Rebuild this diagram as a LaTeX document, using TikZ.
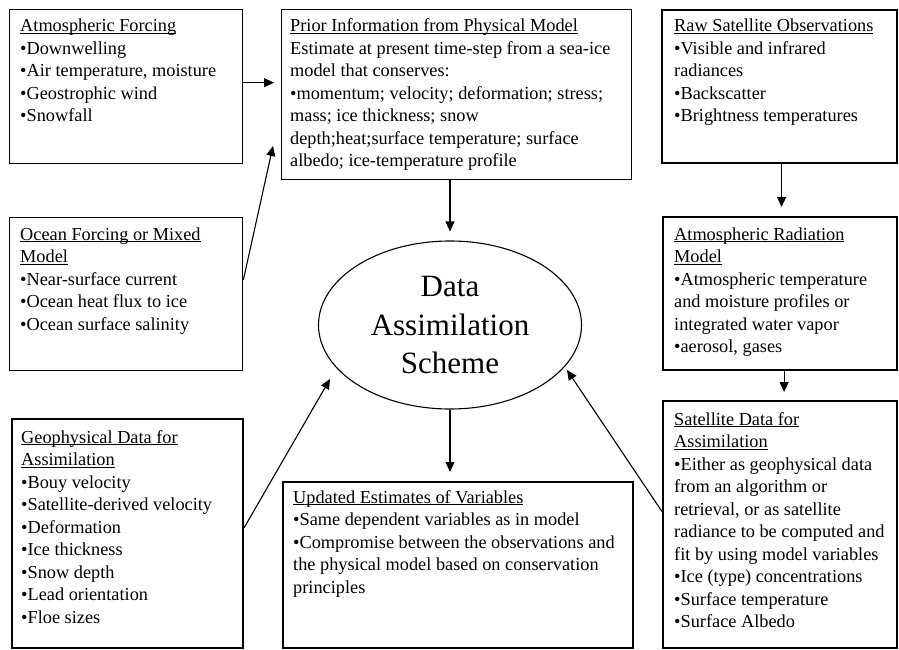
\documentclass[tikz,border=0pt]{standalone}
\usepackage{fontspec}
\setmainfont{Liberation Serif}
\usetikzlibrary{arrows.meta,shapes.geometric,calc}
\newcommand\btxt[1]{\begin{tabular}[t]{@{}l@{}}#1\end{tabular}}
\newcommand\ttl[1]{\setbox0\hbox{#1}\rlap{\rule[-2.4pt]{\wd0}{1.1pt}}\box0}
\begin{document}
\begin{tikzpicture}[x=1pt,y=-1pt,
  boxthin/.style={draw, line width=1.4pt, rectangle, anchor=north west, inner sep=0pt},
  boxthick/.style={draw, line width=2.2pt, rectangle, anchor=north west, inner sep=0pt},
  txt/.style={anchor=base west, inner sep=0pt, font=\fontsize{18.3pt}{22.5pt}\selectfont},
  arr/.style={-{Triangle[length=10pt,width=9pt]}, line width=1.1pt},
]
\useasboundingbox[fill=white] (0,0) rectangle (899,650);
% boxes
\node[boxthin,  minimum width=233pt, minimum height=154pt] (af) at (9,9) {};
\node[boxthin,  minimum width=350pt, minimum height=170pt] (prior) at (281,9) {};
\node[boxthick, minimum width=235pt, minimum height=153pt] (raw) at (661,9) {};
\node[boxthin,  minimum width=233pt, minimum height=153pt] (ocean) at (9,217) {};
\node[boxthick, minimum width=234pt, minimum height=153pt] (atmrad) at (662,216) {};
\node[boxthick, minimum width=231pt, minimum height=229pt] (geo) at (11,418) {};
\node[boxthick, minimum width=350pt, minimum height=166pt] (upd) at (282,481) {};
\node[boxthick, minimum width=234pt, minimum height=247pt] (sat) at (662,400) {};
% texts
\node[txt] (aft) at (20,32) {\btxt{\ttl{Atmospheric Forcing}\\
•Downwelling\\
•Air temperature, moisture\\
•Geostrophic wind\\
•Snowfall}};
\node[txt] (priort) at (290,32) {\btxt{\ttl{Prior Information from Physical Model}\\
Estimate at present time-step from a sea-ice\\
model that conserves:\\
•momentum; velocity; deformation; stress;\\
mass; ice thickness; snow\\
depth;heat;surface temperature; surface\\
albedo; ice-temperature profile}};
\node[txt] (rawt) at (674,32) {\btxt{\ttl{Raw Satellite Observations}\\
•Visible and infrared\\
radiances\\
•Backscatter\\
•Brightness temperatures}};
\node[txt] (oceant) at (20,240) {\btxt{\ttl{Ocean Forcing or Mixed}\\
\ttl{Model}\\
•Near-surface current\\
•Ocean heat flux to ice\\
•Ocean surface salinity}};
\node[txt] (atmradt) at (674,240) {\btxt{\ttl{Atmospheric Radiation}\\
\ttl{Model}\\
•Atmospheric temperature\\
and moisture profiles or\\
integrated water vapor\\
•aerosol, gases}};
\node[txt] (geot) at (21,443) {\btxt{\ttl{Geophysical Data for}\\
\ttl{Assimilation}\\
•Bouy velocity\\
•Satellite-derived velocity\\
•Deformation\\
•Ice thickness\\
•Snow depth\\
•Lead orientation\\
•Floe sizes}};
\node[txt] (updt) at (293,503) {\btxt{\ttl{Updated Estimates of Variables}\\
•Same dependent variables as in model\\
•Compromise between the observations and\\
the physical model based on conservation\\
principles}};
\node[txt] (satt) at (674,425) {\btxt{\ttl{Satellite Data for}\\
\ttl{Assimilation}\\
•Either as geophysical data\\
from an algorithm or\\
retrieval, or as satellite\\
radiance to be computed and\\
fit by using model variables\\
•Ice (type) concentrations\\
•Surface temperature\\
•Surface Albedo}};
% ellipse
\node[draw, ellipse, line width=1.1pt, minimum width=263pt, minimum height=168pt, inner sep=0pt,
  align=center, font=\fontsize{31pt}{38.5pt}\selectfont] (ell) at (450,325) {Data\\Assimilation\\Scheme};
% arrow tips
\coordinate (opTip) at (273,146);
\coordinate (geTip) at (330,379);
\coordinate (seTip) at (567,370);
% connectors
\draw[arr, shorten >=7pt] ([yshift=4pt]af.east) -- ([yshift=4pt]af.east -| prior.west);
\draw[arr] ([yshift=14.5pt]ocean.east) -- (opTip);
\draw[arr, shorten >=9pt] (prior.south -| ell.north) -- (ell.north);
\draw[arr, shorten >=9pt] (ell.south) -- (ell.south |- upd.north);
\draw[arr, shorten >=9pt] ([xshift=2pt]raw.south) -- ([xshift=2pt]raw.south |- atmrad.north);
\draw[arr, shorten >=8pt] ([xshift=4pt]atmrad.south) -- ([xshift=4pt]atmrad.south |- sat.north);
\draw[arr] ([yshift=6pt]geo.east) -- (geTip);
\draw[arr] ([yshift=13pt]sat.west) -- (seTip);
\end{tikzpicture}
\end{document}
